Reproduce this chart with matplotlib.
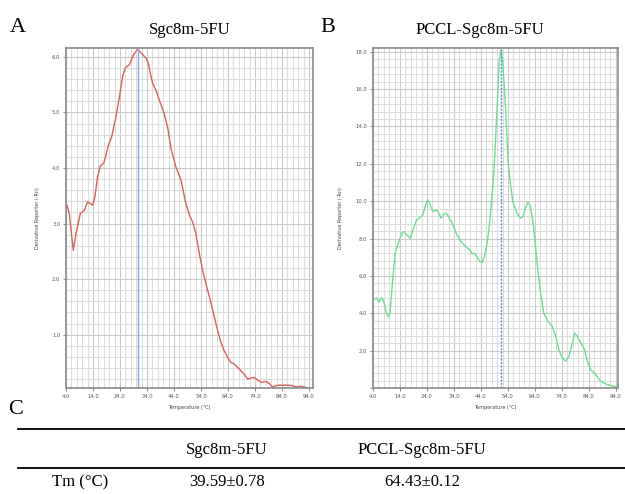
import numpy as np
import matplotlib.pyplot as plt
from matplotlib.lines import Line2D
from matplotlib.ticker import MultipleLocator

plt.rcParams['font.family'] = ['Liberation Serif', 'DejaVu Serif']

# melt curve A: Sgc8m-5FU
temp_a = [4.4, 5.2, 6.7, 7.7, 9.3, 10.8, 12.0, 13.0, 13.9, 14.7, 15.7, 16.7, 18.0,
          18.8, 19.7, 20.9, 22.5, 23.8, 25.0, 25.9, 27.5, 28.7, 30.5, 31.8, 33.6,
          34.5, 35.2, 36.1, 37.3, 38.6, 40.4, 41.7, 42.9, 44.0, 44.7, 46.6, 48.4, 49.7,
          50.9, 52.1, 53.4, 54.6, 56.2, 57.5, 58.7, 60.2, 61.4, 62.6, 63.9, 65.1,
          66.3, 67.6, 68.8, 70.0, 71.3, 72.5, 73.8, 75.0, 76.5, 78.1, 79.3, 80.5,
          82.4, 84.9, 87.3, 89.2, 91.0, 92.9, 94.1]
deriv_a = [3.33, 3.18, 2.52, 2.82, 3.18, 3.24, 3.39, 3.36, 3.33, 3.48, 3.84, 4.03, 4.09,
           4.23, 4.41, 4.56, 4.92, 5.28, 5.65, 5.80, 5.86, 6.01, 6.14, 6.07, 5.98,
           5.89, 5.71, 5.52, 5.40, 5.22, 4.98, 4.72, 4.35, 4.15, 4.02, 3.78, 3.36, 3.15,
           3.03, 2.82, 2.46, 2.16, 1.85, 1.61, 1.37, 1.07, 0.86, 0.71, 0.59, 0.50,
           0.47, 0.41, 0.35, 0.29, 0.20, 0.22, 0.23, 0.18, 0.14, 0.16, 0.12, 0.06,
           0.09, 0.09, 0.09, 0.06, 0.07, 0.05, 0.02]

# melt curve B: PCCL-Sgc8m-5FU
temp_b = [4.5, 5.4, 6.2, 7.2, 7.8, 8.8, 9.7, 10.3, 11.3, 12.2, 13.4, 14.7, 15.5, 16.5,
          17.8, 19.0, 20.2, 21.5, 22.5, 23.3, 24.2, 24.9, 26.2, 27.4, 28.3, 29.2,
          30.1, 31.1, 32.0, 33.6, 35.1, 36.6, 38.2, 39.8, 40.7, 41.5, 42.5, 43.5,
          44.4, 45.3, 46.3, 47.1, 48.1, 49.0, 50.0, 50.8, 51.5, 52.2, 53.1, 54.1,
          54.9, 55.9, 57.4, 58.6, 59.6, 60.5, 61.4, 62.4, 63.4, 64.2, 65.1, 66.1,
          67.3, 68.8, 70.4, 71.7, 72.9, 74.1, 75.4, 76.6, 77.9, 78.8, 79.7, 81.0,
          82.4, 83.4, 84.7, 86.5, 88.4, 90.9, 93.3, 94.5]
deriv_b = [4.76, 4.82, 4.60, 4.82, 4.73, 4.10, 3.80, 4.01, 5.80, 7.22, 7.76, 8.29, 8.38,
           8.20, 8.02, 8.56, 9.00, 9.13, 9.27, 9.72, 10.07, 9.90, 9.45, 9.54, 9.40,
           9.09, 9.27, 9.36, 9.18, 8.74, 8.20, 7.85, 7.58, 7.40, 7.19, 7.22, 7.04,
           6.78, 6.72, 7.04, 7.76, 8.65, 10.25, 12.04, 15.07, 17.56, 18.10, 17.20,
           15.07, 12.04, 10.97, 9.90, 9.36, 9.09, 9.18, 9.63, 9.95, 9.72, 8.74, 7.58,
           6.33, 5.08, 4.01, 3.57, 3.30, 2.77, 2.05, 1.61, 1.43, 1.70, 2.41, 2.94,
           2.77, 2.41, 2.05, 1.43, 0.98, 0.72, 0.36, 0.18, 0.09, 0.05]

peak_a = 30.5
peak_b = 51.5

x_ticks = [4.0, 14.0, 24.0, 34.0, 44.0, 54.0, 64.0, 74.0, 84.0, 94.0]

col_labels = ['Sgc8m-5FU', 'PCCL-Sgc8m-5FU']
row_label = 'Tm (\u00b0C)'
tm_values = ['39.59\u00b10.78', '64.43\u00b10.12']

W, H = 625, 494
fig = plt.figure(figsize=(W / 100, H / 100), dpi=100)


def px_axes(left, top, right, bottom):
    return fig.add_axes([left / W, 1 - bottom / H, (right - left) / W, (bottom - top) / H])


def style_panel(ax, xlim, ylim, ymajor, yminor):
    ax.set_xlim(*xlim)
    ax.set_ylim(*ylim)
    ax.set_xticks(x_ticks)
    ax.set_xticklabels(['%.1f' % t for t in x_ticks])
    ax.xaxis.set_minor_locator(MultipleLocator(2))
    ax.yaxis.set_major_locator(MultipleLocator(ymajor))
    ax.yaxis.set_minor_locator(MultipleLocator(yminor))
    ax.yaxis.set_major_formatter(lambda v, p: '' if v < ymajor / 2 else '%.1f' % v)
    ax.grid(which='minor', color='#dcdcdc', lw=0.7)
    ax.grid(which='major', color='#cacaca', lw=0.8)
    ax.set_axisbelow(True)
    for s in ax.spines.values():
        s.set_color('#8a8a8a')
        s.set_linewidth(1.2)
    ax.tick_params(which='both', labelsize=3.8, colors='#555555', length=2, width=0.5,
                   pad=2, labelfontfamily='DejaVu Sans')
    ax.tick_params(which='minor', length=0)
    ax.set_xlabel('Temperature (\u00b0C)', fontsize=3.5, family='DejaVu Sans',
                  color='#444444', labelpad=5)
    ax.set_ylabel('Derivative Reporter (-Rn)', fontsize=3.5, family='DejaVu Sans',
                  color='#444444', labelpad=9)


ax_a = px_axes(66, 48, 313, 388)
ax_a.plot(temp_a, deriv_a, color='#d9605c', lw=1.0)
ax_a.axvline(peak_a, color='#86abdc', lw=1.0)
style_panel(ax_a, (4, 95.5), (0.04, 6.16), 1.0, 0.2)

ax_b = px_axes(373, 48, 618, 388)
ax_b.plot(temp_b, deriv_b, color='#6fdc94', lw=1.0)
ax_b.axvline(peak_b, color='#5f8fd0', lw=1.0, ls=(0, (1.5, 1)))
style_panel(ax_b, (4, 94.8), (0.0, 18.2), 2.0, 0.4)

fig.text(190 / W, 1 - 30 / H, 'Sgc8m-5FU', fontsize=12, ha='center', va='center')
fig.text(480 / W, 1 - 30 / H, 'PCCL-Sgc8m-5FU', fontsize=12, ha='center', va='center')
fig.text(18 / W, 1 - 28 / H, 'A', fontsize=16, ha='center', va='center')
fig.text(328 / W, 1 - 28 / H, 'B', fontsize=16, ha='center', va='center')
fig.text(16 / W, 1 - 410 / H, 'C', fontsize=16, ha='center', va='center')

# table C
for y in (429, 468):
    fig.add_artist(Line2D([18 / W, 1.0], [1 - y / H, 1 - y / H], color='black', lw=1.3))

col_x = [227, 422]
for cx, lab, val in zip(col_x, col_labels, tm_values):
    fig.text(cx / W, 1 - 450 / H, lab, fontsize=12, ha='center', va='center')
    fig.text(cx / W, 1 - 482 / H, val, fontsize=12, ha='center', va='center')
fig.text(80 / W, 1 - 482 / H, row_label, fontsize=12, ha='center', va='center')

fig.savefig('out.png', dpi=100)
